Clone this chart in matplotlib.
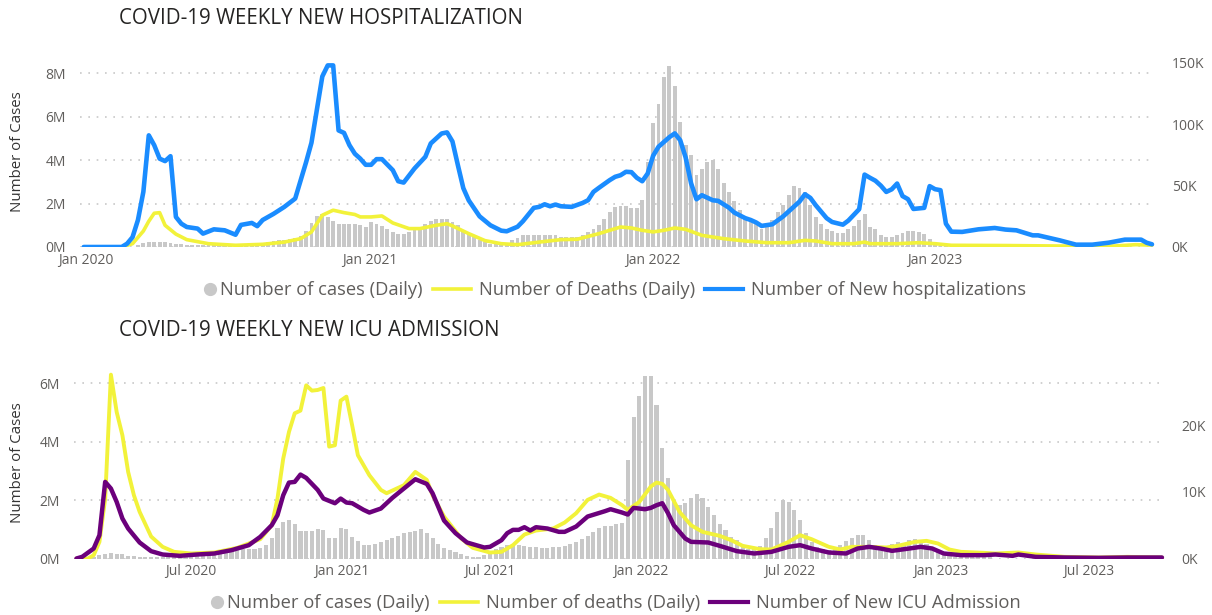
import numpy as np
import pandas as pd
import matplotlib
matplotlib.use("Agg")
import matplotlib.pyplot as plt
from matplotlib.lines import Line2D
from matplotlib.legend_handler import HandlerBase
from matplotlib.ticker import FuncFormatter

plt.rcParams['font.family'] = ['Open Sans', 'DejaVu Sans']

# ---------------- data ----------------
# top panel: weekly series starting 2019-12-29
top_start = "2019-12-29"
top_cases = [  # millions, weekly bars
    0, 0, 0, 0, 0, 0, 0, 0, 0, 0.02,
    0.1, 0.2, 0.24, 0.25, 0.24, 0.22, 0.18, 0.15, 0.12, 0.1,
    0.08, 0.08, 0.07, 0.07, 0.07, 0.08, 0.08, 0.08, 0.09, 0.1,
    0.1, 0.11, 0.12, 0.15, 0.22, 0.28, 0.3, 0.34, 0.38, 0.42,
    0.52, 0.75, 1.1, 1.42, 1.5, 1.4, 1.22, 1.05, 1.05, 1.07,
    1.05, 1.0, 0.92, 1.15, 1.08, 0.98, 0.85, 0.7, 0.62, 0.62,
    0.7, 0.77, 0.92, 1.08, 1.22, 1.28, 1.28, 1.3, 1.15, 1.0,
    0.77, 0.62, 0.46, 0.34, 0.23, 0.15, 0.15, 0.15, 0.15, 0.3,
    0.42, 0.57, 0.57, 0.57, 0.57, 0.54, 0.54, 0.54, 0.46, 0.46,
    0.46, 0.46, 0.54, 0.69, 0.85, 1.0, 1.28, 1.6, 1.85, 1.9,
    1.9, 1.8, 1.8, 2.15, 3.9, 5.7, 6.57, 7.85, 8.35, 7.4,
    5.77, 4.7, 4.23, 3.34, 3.6, 3.9, 4.03, 3.6, 2.97, 2.54,
    2.1, 1.7, 1.38, 1.23, 1.08, 0.85, 0.92, 1.23, 1.6, 1.92,
    2.38, 2.8, 2.72, 2.54, 1.92, 1.38, 1.08, 0.85, 0.72, 0.66,
    0.66, 0.82, 0.97, 1.23, 1.5, 0.92, 0.82, 0.57, 0.46, 0.46,
    0.57, 0.66, 0.72, 0.72, 0.7, 0.62, 0.38, 0.23, 0.1, 0.04,
] + [0] * 38
# new hospitalizations (thousands), week number -> value
hosp_week = [0, 7, 8, 9, 10, 11, 12, 13, 14, 15, 16, 17, 18, 19, 21, 22, 24, 26, 28, 29,
             31, 32, 33, 35, 37, 39, 41, 42, 43, 44, 45, 46, 47, 48, 49, 50, 51, 52, 53, 54,
             55, 57, 58, 59, 61, 63, 64, 66, 67, 68, 69, 70, 71, 73, 75, 77, 78, 80, 81, 83,
             84, 85, 86, 87, 88, 90, 92, 93, 94, 95, 97, 98, 99, 100, 101, 102, 103, 104, 105, 106,
             108, 109, 110, 111, 112, 113, 114, 116, 117, 119, 120, 122, 123, 124, 125, 127, 129, 130, 132, 133,
             134, 135, 137, 138, 140, 141, 143, 144, 145, 146, 147, 148, 149, 150, 151, 152, 153, 155, 156, 157,
             158, 159, 160, 162, 165, 168, 170, 172, 175, 176, 180, 183, 186, 189, 192, 195, 196, 197]
hosp_k = [0, 0, 2.7, 8, 22, 45, 91, 83, 72, 70, 74, 24.5, 19, 16.3, 15, 10.9, 14.4, 13.6, 10, 18,
          19.6, 17, 22, 27, 32.7, 39.5, 69, 85, 112, 139, 148, 148, 95, 93, 83, 76, 72, 67, 67, 71.6,
          71.6, 62.6, 53.6, 52.5, 64, 73.5, 84.4, 92.5, 93.4, 86, 66.7, 48, 38, 25, 17.7, 13.3, 12.8, 16.5, 21, 31.9,
          32.7, 34.8, 33.2, 34.6, 33.2, 32.7, 35.9, 38.1, 44.9, 48.2, 54.5, 57.2, 58.5, 61.3, 61, 56.4, 53.6, 59.9, 74.3, 81.7,
          89.5, 92.6, 87, 73, 52, 38.9, 42.2, 38.1, 37.6, 32, 28, 23.5, 22, 20, 17.2, 18.5, 25, 29, 37, 43,
          40, 34, 23.5, 20.4, 18.2, 21.5, 30.8, 59, 56.4, 54, 50, 44.9, 47, 51.7, 41.5, 39, 31, 31.9, 49.6, 47.1,
          46.3, 19, 12.5, 12.3, 14.4, 15.5, 14.2, 13.6, 9.5, 9.5, 5.4, 1.9, 1.9, 3.5, 6, 6, 3.5, 2.2]
# deaths (thousands), week number -> value
tdeath_week = [0, 7, 9, 11, 12, 13, 14, 15, 17, 19, 23, 28, 33, 37, 40, 42, 44, 46, 48, 50,
               51, 53, 55, 57, 60, 62, 65, 67, 68, 71, 74, 77, 80, 84, 88, 91, 95, 99, 101, 103,
               105, 107, 109, 111, 114, 118, 122, 126, 130, 133, 135, 138, 142, 144, 145, 150, 154, 157, 160, 170,
               180, 190, 194, 197]
tdeath_k = [0, 0, 2.7, 13, 21, 27.5, 28, 17.7, 10.5, 6, 2.7, 1.4, 2.2, 4, 6.8, 12.3, 25.9, 30, 28, 26.5,
            24.5, 24.5, 25.3, 19.6, 15, 15, 17.7, 19, 17.2, 10.9, 5.2, 2.7, 1.9, 4, 6, 6.3, 10.9, 16.3, 15.5, 13.6,
            12.3, 13.6, 15.5, 14.4, 9.5, 6.8, 4.9, 3.5, 3.5, 5.4, 4.9, 2.7, 2.7, 4, 2.7, 2.7, 3.5, 2.7, 1.4, 1.2,
            0.8, 0.8, 1.9, 1.5]

# bottom panel: weekly series starting 2020-02-13
bot_start = "2020-02-13"
bot_cases = [  # millions
    0, 0, 0.02, 0.05, 0.12, 0.17, 0.18, 0.17, 0.15, 0.1,
    0.08, 0.06, 0.06, 0.05, 0.05, 0.05, 0.05, 0.05, 0.06, 0.07,
    0.08, 0.1, 0.12, 0.14, 0.17, 0.2, 0.23, 0.26, 0.29, 0.31,
    0.32, 0.34, 0.37, 0.46, 0.69, 1.03, 1.24, 1.32, 1.17, 0.94,
    0.94, 0.95, 1.0, 0.97, 0.71, 0.71, 1.05, 1.0, 0.74, 0.6,
    0.46, 0.46, 0.51, 0.57, 0.63, 0.69, 0.77, 0.86, 0.92, 0.95,
    1.0, 0.86, 0.69, 0.51, 0.37, 0.29, 0.21, 0.14, 0.09, 0.06,
    0.06, 0.11, 0.23, 0.32, 0.4, 0.46, 0.48, 0.46, 0.43, 0.4,
    0.38, 0.37, 0.37, 0.38, 0.4, 0.43, 0.48, 0.57, 0.66, 0.78,
    0.92, 1.03, 1.12, 1.12, 1.17, 1.2, 3.38, 4.86, 5.58, 6.24,
    6.24, 5.26, 3.8, 2.75, 2.0, 1.83, 1.89, 2.06, 2.2, 2.06,
    1.77, 1.49, 1.17, 0.97, 0.74, 0.63, 0.4, 0.34, 0.31, 0.43,
    0.69, 1.05, 1.6, 2.0, 1.92, 1.66, 1.32, 0.88, 0.57, 0.4,
    0.31, 0.29, 0.34, 0.46, 0.6, 0.71, 0.82, 0.8, 0.63, 0.46,
    0.4, 0.42, 0.48, 0.57, 0.5, 0.62, 0.68, 0.62, 0.5, 0.35,
    0.22, 0.13, 0.08, 0.05, 0.05, 0.05, 0.05, 0.04, 0.04, 0.04,
] + [0] * 30
bdeath_week = [0, 2, 3, 4, 5, 6, 7, 8, 9, 10, 11, 13, 15, 17, 20, 24, 28, 32, 34, 35,
               36, 37, 38, 39, 40, 41, 42, 43, 44, 45, 46, 47, 48, 49, 51, 53, 54, 57, 59, 61,
               62, 64, 67, 69, 72, 74, 76, 78, 80, 83, 85, 87, 89, 91, 93, 95, 96, 98, 100, 101,
               102, 103, 105, 107, 109, 112, 114, 116, 119, 121, 124, 126, 128, 131, 133, 135, 138, 141, 143, 146,
               148, 150, 152, 154, 158, 160, 164, 167, 172, 178, 183, 189]
bdeath_k = [0, 0, 0.5, 2.5, 9, 27.6, 22, 18.5, 13, 9.5, 7, 3.3, 1.75, 1, 0.75, 0.9, 1.6, 2.9, 5, 9,
            15, 19, 21.8, 22.2, 26, 25.2, 25.3, 25.6, 16.8, 17, 23.7, 24.3, 20, 15.5, 12.5, 10.3, 9.8, 11, 13, 11.8,
            9.5, 6.3, 3, 1.6, 0.9, 1, 2, 3.6, 4.2, 4.5, 5.4, 6.8, 8.8, 9.6, 9.1, 8, 7.3, 8.5, 10.8, 11.4,
            11.2, 10.3, 7, 5, 4, 3.4, 2.75, 1.9, 1.4, 1.35, 2.5, 3.5, 2.9, 1.75, 1.35, 1.75, 1.75, 1.65, 1.9, 2.5,
            2.65, 2.25, 1.35, 1, 0.85, 0.75, 0.9, 0.6, 0.25, 0.15, 0.25, 0.15]
icu_week = [0, 1, 3, 4, 5, 6, 7, 8, 9, 11, 13, 15, 18, 21, 24, 27, 30, 32, 34, 35,
            36, 37, 38, 39, 40, 42, 43, 45, 46, 47, 48, 50, 51, 53, 55, 57, 59, 61, 62, 64,
            66, 68, 71, 72, 74, 75, 76, 77, 78, 79, 80, 82, 84, 85, 87, 89, 92, 93, 95, 96,
            97, 99, 100, 101, 102, 103, 104, 106, 107, 110, 112, 115, 118, 121, 124, 126, 128, 131, 134, 136,
            138, 140, 142, 145, 147, 149, 151, 154, 158, 160, 163, 164, 167, 172, 178, 183, 189]
icu_k = [0, 0.25, 1.5, 3.5, 11.5, 10.5, 8.5, 6, 4.5, 2.4, 1.1, 0.6, 0.4, 0.6, 0.75, 1.25, 2, 3.25, 5, 6.5,
         9.5, 11.4, 11.5, 12.6, 12.1, 10.3, 9, 8.3, 9, 8.4, 8.3, 7.3, 6.9, 7.5, 9.1, 10.5, 11.9, 11.2, 9.8, 5.7,
         3.8, 2.4, 1.65, 1.75, 2.75, 3.8, 4.3, 4.3, 4.7, 4.2, 4.7, 4.5, 4, 4, 4.8, 6.3, 7.1, 7.4, 6.9, 6.6,
         7.6, 7.4, 7.6, 8.0, 8.3, 6.8, 5.0, 3, 2.5, 2.4, 1.9, 1.1, 0.75, 1, 1.75, 2, 1.5, 0.9, 0.75, 1.5,
         1.75, 1.5, 1.15, 1.5, 1.75, 1.5, 0.75, 0.5, 0.5, 0.6, 0.4, 0.6, 0.25, 0.15, 0.1, 0.15, 0.15]

GRAY = "#C8C8C8"
YELLOW = "#F2F23A"
BLUE = "#1A8CFF"
PURPLE = "#6B007B"
TXT = "#605E5C"

W, H = 1212, 615
fig = plt.figure(figsize=(W / 100, H / 100), dpi=100)


def rect(l, t, r, b):
    return [l / W, 1 - b / H, (r - l) / W, (b - t) / H]


def panel(box, start, cases, lines, ylim_l, ylim_r, lticks, rticks, xticks, xlabels, pad):
    ax = fig.add_axes(box)
    dates = pd.date_range(start, periods=len(cases), freq="7D")
    ax.bar(dates, cases, width=5, color=GRAY, zorder=2)
    ax.set_ylim(0, ylim_l)
    ax.set_yticks(lticks)
    ax.yaxis.set_major_formatter(FuncFormatter(lambda v, p: f"{v:.0f}M"))
    ax.yaxis.grid(True, linestyle=(0, (1, 4)), color="#C8C8C8", lw=1.2, zorder=0)
    ax.set_axisbelow(True)
    ax.set_xticks(pd.to_datetime(xticks))
    ax.set_xticklabels(xlabels)
    ax.set_xlim(dates[0] - pd.Timedelta(days=pad[0]), dates[-1] + pd.Timedelta(days=pad[1]))
    ax.tick_params(length=0, labelsize=10, colors=TXT)
    ax.tick_params(axis="y", pad=10)
    ax.tick_params(axis="x", pad=4)

    ax2 = ax.twinx()
    for wk, vals, col, lw in lines:
        d = pd.Timestamp(start) + pd.to_timedelta(np.array(wk) * 7, unit="D")
        ax2.plot(d, vals, color=col, lw=lw, solid_joinstyle="round", solid_capstyle="round")
    ax2.set_ylim(0, ylim_r)
    ax2.set_yticks(rticks)
    ax2.yaxis.set_major_formatter(FuncFormatter(lambda v, p: f"{v:.0f}K"))
    ax2.tick_params(length=0, labelsize=10, colors=TXT, pad=12)
    for a in (ax, ax2):
        for s in a.spines.values():
            s.set_visible(False)
    return ax


# top panel
panel(rect(80, 60, 1155, 247), top_start, top_cases,
      [(tdeath_week, tdeath_k, YELLOW, 2.6), (hosp_week, hosp_k, BLUE, 3.3)],
      8.62, 152.4, [0, 2, 4, 6, 8], [0, 50, 100, 150],
      ["2020-01-01", "2021-01-01", "2022-01-01", "2023-01-01"],
      ["Jan 2020", "Jan 2021", "Jan 2022", "Jan 2023"], (4.8, 3.9))

# bottom panel
panel(rect(74, 368, 1165, 558.5), bot_start, bot_cases,
      [(bdeath_week, bdeath_k, YELLOW, 2.8), (icu_week, icu_k, PURPLE, 3.2)],
      6.53, 28.6, [0, 2, 4, 6], [0, 10, 20],
      ["2020-07-01", "2021-01-01", "2021-07-01", "2022-01-01", "2022-07-01", "2023-01-01", "2023-07-01"],
      ["Jul 2020", "Jan 2021", "Jul 2021", "Jan 2022", "Jul 2022", "Jan 2023", "Jul 2023"], (3.0, 3.7))

# titles and axis names
fig.text(119 / W, 1 - 18 / H, "COVID-19 WEEKLY NEW HOSPITALIZATION", ha="left", va="center",
         fontsize=14.8, color="#252423")
fig.text(119 / W, 1 - 330 / H, "COVID-19 WEEKLY NEW ICU ADMISSION", ha="left", va="center",
         fontsize=14.8, color="#252423")
fig.text(18 / W, 1 - 152 / H, "Number of Cases", rotation=90, ha="center", va="center",
         fontsize=10.8, color="#333333")
fig.text(18 / W, 1 - 463 / H, "Number of Cases", rotation=90, ha="center", va="center",
         fontsize=10.8, color="#333333")


# legend dot sits right next to its label
class DotHandler(HandlerBase):
    def create_artists(self, legend, orig_handle, xdescent, ydescent, width, height, fontsize, trans):
        m = Line2D([width - xdescent - 2], [(height - ydescent) / 2], marker="o", ls="none",
                   color=GRAY, markersize=8.5, transform=trans)
        return [m]


dot = Line2D([], [], marker="o", color=GRAY, ls="none")
leg_kw = dict(loc="center", ncol=3, frameon=False, fontsize=13.2, handlelength=2.1,
              columnspacing=0.55, handletextpad=0.4, labelcolor=TXT,
              handler_map={dot: DotHandler()})
fig.legend([dot, Line2D([], [], color=YELLOW, lw=2.6), Line2D([], [], color=BLUE, lw=3)],
           ["Number of cases (Daily)", "Number of Deaths (Daily)", "Number of New hospitalizations"],
           bbox_to_anchor=(600 / W, 1 - 290 / H), **leg_kw)
fig.legend([dot, Line2D([], [], color=YELLOW, lw=2.6), Line2D([], [], color=PURPLE, lw=3)],
           ["Number of cases (Daily)", "Number of deaths (Daily)", "Number of New ICU Admission"],
           bbox_to_anchor=(601 / W, 1 - 603 / H), **leg_kw)

fig.savefig("out.png", dpi=100)
